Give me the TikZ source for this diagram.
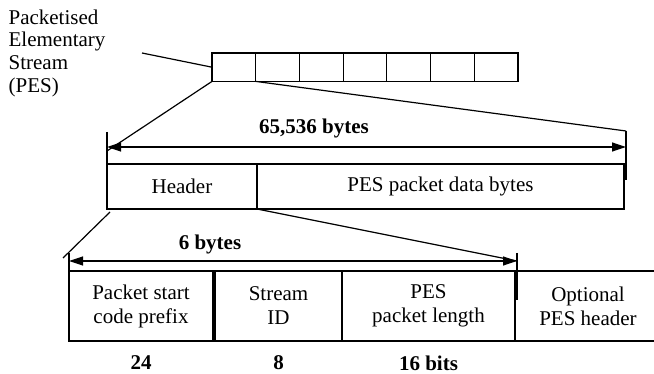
\documentclass[tikz,border=0pt]{standalone}
\usepackage{fontspec}
\setmainfont{Liberation Serif}
\usetikzlibrary{arrows.meta}
\tikzset{
  cell/.style={draw, anchor=north west, minimum width=21.86pt, minimum height=14.2pt, inner sep=0pt, outer sep=0pt},
  field/.style={draw, anchor=north west, align=center, inner sep=0pt, outer sep=0pt},
  dimarrow/.style={{Triangle[length=7pt,width=4.5pt]}-{Triangle[length=7pt,width=4.5pt]}},
  bitlabel/.style={font=\fontsize{10.5}{12}\selectfont\bfseries},
}
\begin{document}
\begin{tikzpicture}[x=0.5pt, y=-0.5pt, line width=0.6pt, every node/.style={font=\fontsize{10.5}{12}\selectfont}]
  \clip (0,0) rectangle (654,374);
  % the stream
  \node[anchor=north west, align=left, inner sep=0pt, font=\fontsize{10.5}{11.35}\selectfont] (pes) at (8,9) {Packetised\\Elementary\\Stream\\(PES)};
  \foreach \i in {1,...,7}
    \node[cell] (c\i) at ({212+43.71*(\i-1)},53) {};
  \coordinate (pesend) at (142,53);
  \draw (pesend) -- (c1.west);

  % one PES packet
  \node[field, minimum width=75pt, minimum height=22.5pt] (hdr) at (107,164) {Header};
  \node[field, minimum width=183.5pt, minimum height=22.5pt] (data) at (hdr.north east) {PES packet data bytes};
  \coordinate (mlt) at ([yshift=16pt]hdr.north west);
  \coordinate (mlb) at ([yshift=-8pt]hdr.north west);
  \coordinate (mrt) at ([xshift=1pt,yshift=16.5pt]data.north east);
  \coordinate (mrb) at ([xshift=1pt,yshift=-8pt]data.north east);
  \coordinate (ml) at ([yshift=8.5pt]hdr.north west);
  \coordinate (mr) at ([xshift=1pt,yshift=8.5pt]data.north east);
  \coordinate (mzoom) at ([yshift=6.5pt]hdr.north west);
  \draw (mlt) -- (mlb);
  \draw (mrt) -- (mrb);
  \draw[dimarrow] (ml) -- (mr);
  \node[bitlabel] (total) at (314,128) {65,536 bytes};
  \draw (c1.south west) -- (mzoom);
  \draw (c1.south east) -- (mrt);

  % the header fields
  \node[field, minimum width=72pt, minimum height=35pt] (psc) at (69,271) {Packet start\\code prefix};
  \node[field, minimum width=63.5pt, minimum height=35pt] (sid) at ([xshift=1pt]psc.north east) {Stream\\ID};
  \node[field, minimum width=86.5pt, minimum height=35pt] (len) at (sid.north east) {PES\\packet length};
  \node[field, minimum width=73pt, minimum height=35pt] (opt) at (len.north east) {Optional\\PES header};
  \coordinate (blt) at ([yshift=9pt]psc.north west);
  \coordinate (blb) at ([yshift=-14.5pt]psc.north west);
  \coordinate (brt) at ([xshift=1pt,yshift=9pt]len.north east);
  \coordinate (brb) at ([xshift=1pt,yshift=-14.5pt]len.north east);
  \coordinate (bl) at ([yshift=5pt]psc.north west);
  \coordinate (br) at ([xshift=1pt,yshift=5pt]len.north east);
  \coordinate (bzoom) at ([xshift=-3pt,yshift=6.5pt]psc.north west);
  \draw (blt) -- (blb);
  \draw (brt) -- (brb);
  \draw[dimarrow] (bl) -- (br);
  \node[bitlabel] (hlen) at (210,244) {6 bytes};
  \draw ([shift={(1.5pt,-1.5pt)}]hdr.south west) -- (bzoom);
  \draw (hdr.south east) -- (br);

  % field sizes
  \node[bitlabel] (b24) at ([yshift=-11pt]psc.south) {24};
  \node[bitlabel] (b8) at ([yshift=-11pt]sid.south) {8};
  \node[bitlabel] (b16) at ([yshift=-11pt]len.south) {16 bits};
\end{tikzpicture}
\end{document}
